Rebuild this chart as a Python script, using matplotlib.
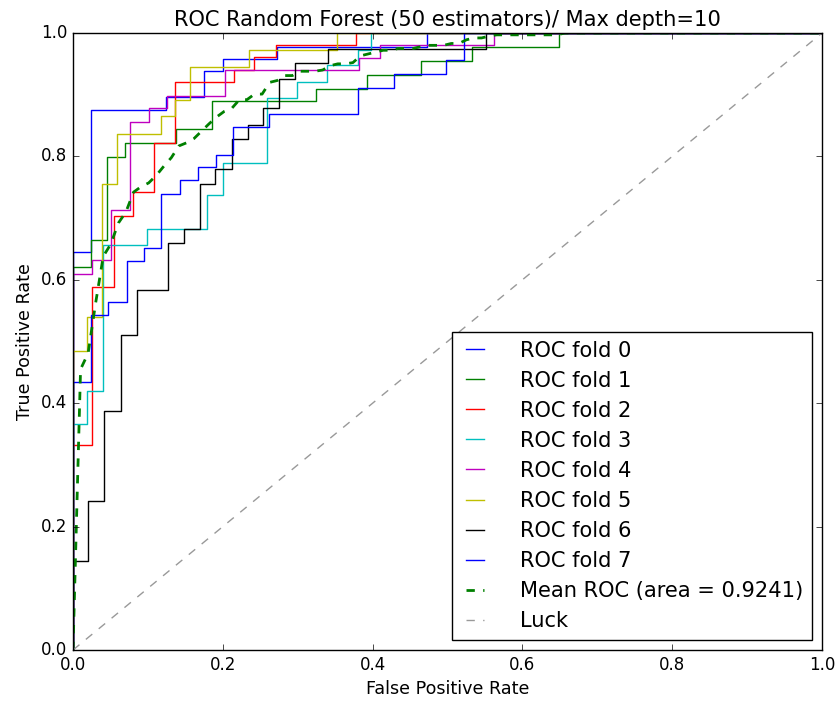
import numpy as np
import matplotlib
matplotlib.use('Agg')
import matplotlib.pyplot as plt

plt.style.use('classic')

# ROC step points per fold, drawn with steps-post
fpr_fold0 = [0, 0, 0.0245, 0.1245, 0.175, 0.2, 0.273, 0.473, 1.0]
tpr_fold0 = [0, 0.645, 0.876, 0.896, 0.938, 0.958, 0.978, 1.0, 1.0]

fpr_fold1 = [0, 0, 0.0236, 0.0458, 0.069, 0.138, 0.185, 0.3245, 0.393, 0.464, 0.5325, 0.649, 1.0]
tpr_fold1 = [0, 0.621, 0.665, 0.799, 0.822, 0.844, 0.889, 0.910, 0.932, 0.955, 0.978, 1.0, 1.0]

fpr_fold2 = [0, 0, 0.0258, 0.0543, 0.08, 0.1076, 0.1356, 0.2156, 0.2413, 0.271, 0.378, 1.0]
tpr_fold2 = [0, 0.333, 0.588, 0.703, 0.743, 0.822, 0.920, 0.940, 0.961, 0.980, 1.0, 1.0]

fpr_fold3 = [0, 0, 0.019, 0.04, 0.0987, 0.1787, 0.2, 0.2587, 0.299, 0.3387, 0.38, 0.398, 1.0]
tpr_fold3 = [0, 0.367, 0.42, 0.656, 0.683, 0.737, 0.790, 0.895, 0.921, 0.948, 0.973, 1.0, 1.0]

fpr_fold4 = [0, 0, 0.0258, 0.051, 0.0756, 0.101, 0.125, 0.203, 0.382, 0.41, 0.562, 1.0]
tpr_fold4 = [0, 0.610, 0.632, 0.713, 0.856, 0.878, 0.898, 0.940, 0.96, 0.98, 1.0, 1.0]

fpr_fold5 = [0, 0, 0.0187, 0.039, 0.0587, 0.117, 0.1356, 0.1556, 0.2347, 0.352, 1.0]
tpr_fold5 = [0, 0.485, 0.539, 0.755, 0.837, 0.865, 0.891, 0.945, 0.973, 1.0, 1.0]

fpr_fold6 = [0, 0, 0.02, 0.0413, 0.0636, 0.0853, 0.1267, 0.1476, 0.169, 0.19, 0.2125,
             0.233, 0.2533, 0.2756, 0.2965, 0.34, 0.551, 1.0]
tpr_fold6 = [0, 0.144, 0.242, 0.388, 0.510, 0.583, 0.660, 0.682, 0.755, 0.779, 0.828,
             0.851, 0.878, 0.926, 0.951, 0.974, 1.0, 1.0]

fpr_fold7 = [0, 0, 0.024, 0.047, 0.072, 0.095, 0.118, 0.143, 0.167, 0.191, 0.214,
             0.262, 0.380, 0.428, 0.498, 0.522, 1.0]
tpr_fold7 = [0, 0.435, 0.543, 0.564, 0.631, 0.651, 0.739, 0.761, 0.783, 0.803, 0.847,
             0.869, 0.911, 0.934, 0.956, 1.0, 1.0]

# mean ROC read at points along the dashed curve
mean_fpr = [0.0, 0.0101, 0.0202, 0.0303, 0.0404, 0.0505, 0.0606, 0.0707, 0.0808, 0.0909,
            0.101, 0.1111, 0.1212, 0.1313, 0.1414, 0.1515, 0.1616, 0.1717, 0.1818, 0.1919,
            0.202, 0.2121, 0.2222, 0.2323, 0.2424, 0.2525, 0.2626, 0.2727, 0.2828, 0.2929,
            0.303, 0.3232, 0.3333, 0.3434, 0.3535, 0.3636, 0.3737, 0.3838, 0.3939, 0.404,
            0.4141, 0.4242, 0.4343, 0.4545, 0.4646, 0.4747, 0.4949, 0.505, 0.5152, 0.5253,
            0.5354, 0.5455, 0.5556, 0.5657, 0.6465, 0.6566, 1.0]
mean_tpr = [0.0, 0.455, 0.481, 0.563, 0.638, 0.658, 0.692, 0.710, 0.742, 0.751,
            0.757, 0.769, 0.784, 0.798, 0.817, 0.822, 0.829, 0.841, 0.853, 0.864,
            0.873, 0.878, 0.892, 0.892, 0.901, 0.901, 0.920, 0.923, 0.931, 0.931,
            0.938, 0.938, 0.940, 0.947, 0.950, 0.950, 0.952, 0.963, 0.966, 0.969,
            0.972, 0.972, 0.975, 0.975, 0.978, 0.980, 0.980, 0.983, 0.983, 0.989,
            0.992, 0.992, 0.995, 0.997, 0.997, 1.0, 1.0]
mean_auc = 0.9241

folds = [(fpr_fold0, tpr_fold0), (fpr_fold1, tpr_fold1), (fpr_fold2, tpr_fold2),
         (fpr_fold3, tpr_fold3), (fpr_fold4, tpr_fold4), (fpr_fold5, tpr_fold5),
         (fpr_fold6, tpr_fold6), (fpr_fold7, tpr_fold7)]

fig = plt.figure(figsize=(8.35, 7.02), dpi=100)
fig.patch.set_facecolor('white')
ax = fig.add_axes([73/835, 52/702, 749/835, 617/702])

for i, (fpr, tpr) in enumerate(folds):
    ax.plot(fpr, tpr, lw=1, drawstyle='steps-post', label='ROC fold %d' % i)

ax.plot(mean_fpr, mean_tpr, 'g--', lw=2, label='Mean ROC (area = %0.4f)' % mean_auc)
ax.plot([0, 1], [0, 1], '--', color=(0.6, 0.6, 0.6), label='Luck')

ax.set_xlim(0, 1)
ax.set_ylim(0, 1)
ax.set_xlabel('False Positive Rate', fontsize=12.6)
ax.set_ylabel('True Positive Rate', fontsize=12.6)
ax.set_title('ROC Random Forest (50 estimators)/ Max depth=10', fontsize=15.1)
ax.legend(loc='lower right', fontsize=15.1, handlelength=1.45, handletextpad=1.4,
          labelspacing=0.48)

fig.savefig('out.png', dpi=100, facecolor='white')
